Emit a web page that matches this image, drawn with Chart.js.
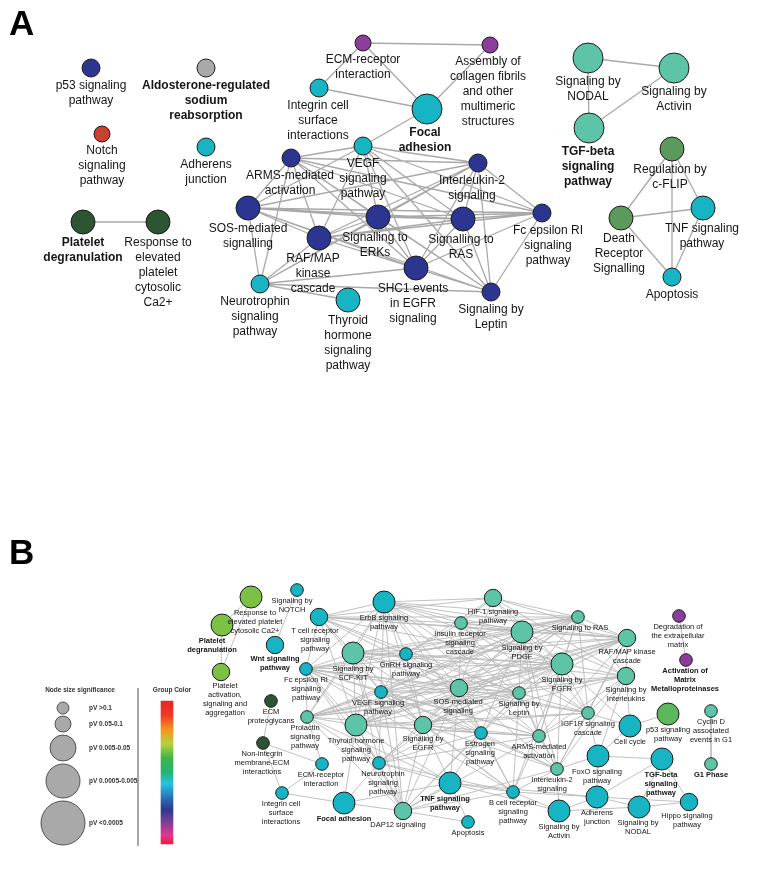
<!DOCTYPE html>
<html>
<head>
<meta charset="utf-8">
<title>Pathway networks</title>
<script src="https://cdn.jsdelivr.net/npm/chart.js@4.4.1/dist/chart.umd.min.js"></script>
<style>
  html, body { margin: 0; padding: 0; background: #fff; }
  #wrap { width: 771px; height: 888px; }
</style>
</head>
<body>
<div id="wrap"><canvas id="net" width="771" height="888"></canvas></div>
<script>
// ─── Panel A data ─────────────────────────────────────────
const aIds = ['p53','ald','notch','adh','pdeg','resp','ecm','asm','int','foc','vegf','arms','il2',
              'sos','erk','ras','fce','raf','shc','lep','neu','thy','nodal','act','tgf','flip','tnf','drs','apo'];
const aLabels = [
  'p53 signaling\npathway', 'Aldosterone-regulated\nsodium\nreabsorption', 'Notch\nsignaling\npathway',
  'Adherens\njunction', 'Platelet\ndegranulation', 'Response to\nelevated\nplatelet\ncytosolic\nCa2+',
  'ECM-receptor\ninteraction', 'Assembly of\ncollagen fibrils\nand other\nmultimeric\nstructures',
  'Integrin cell\nsurface\ninteractions', 'Focal\nadhesion', 'VEGF\nsignaling\npathway',
  'ARMS-mediated\nactivation', 'Interleukin-2\nsignaling', 'SOS-mediated\nsignalling', 'Signalling to\nERKs',
  'Signalling to\nRAS', 'Fc epsilon RI\nsignaling\npathway', 'RAF/MAP\nkinase\ncascade',
  'SHC1 events\nin EGFR\nsignaling', 'Signaling by\nLeptin', 'Neurotrophin\nsignaling\npathway',
  'Thyroid\nhormone\nsignaling\npathway', 'Signaling by\nNODAL', 'Signaling by\nActivin',
  'TGF-beta\nsignaling\npathway', 'Regulation by\nc-FLIP', 'TNF signaling\npathway',
  'Death\nReceptor\nSignalling', 'Apoptosis'
];
const aX   = [91, 206, 102, 206, 83, 158, 363, 490, 319, 427, 363, 291, 478, 248, 378, 463, 542, 319, 416, 491, 260, 348, 588, 674, 589, 672, 703, 621, 672];
const aY   = [68, 68, 134, 147, 222, 222, 43, 45, 88, 109, 146, 158, 163, 208, 217, 219, 213, 238, 268, 292, 284, 300, 58, 68, 128, 149, 208, 218, 277];
// significance class (0 = least significant)
const aSig = [1, 1, 0, 1, 2, 2, 0, 0, 1, 3, 1, 1, 1, 2, 2, 2, 1, 2, 2, 1, 1, 2, 3, 3, 3, 2, 2, 2, 1];
const aGroup = ['navy','gray','red','cyan','dkgreen','dkgreen','purple','purple','cyan','cyan','cyan','navy','navy',
                'navy','navy','navy','navy','navy','navy','navy','cyan','cyan','aqua','aqua','aqua','green','cyan','green','cyan'];
const aBold = ['ald','pdeg','foc','tgf'];
const edgesA = [
  'pdeg:resp',
  'ecm:asm int foc',
  'asm:foc',
  'int:foc',
  'foc:vegf',
  'vegf:arms sos erk ras il2 fce raf shc lep',
  'arms:sos erk ras il2 fce raf shc lep neu',
  'il2:sos erk ras fce raf shc lep neu',
  'sos:erk ras fce raf shc lep neu',
  'erk:ras fce raf shc lep neu',
  'ras:fce raf shc lep',
  'fce:raf shc lep',
  'raf:shc lep neu',
  'shc:lep neu',
  'neu:thy lep',
  'nodal:act tgf',
  'act:tgf',
  'flip:drs tnf apo',
  'drs:tnf apo',
  'tnf:apo'
];

// ─── Panel B data ─────────────────────────────────────────
const bIds = ['resp','pdeg','pact','notch','tcr','wnt','fce','scf','erbb','ecmp','hif','ins','pdgf','gnrh','fgfr',
              'sos','lep','ras','raf','il','deg','amp','p53','cyc','g1','cc','foxo','tgf','adh','nodal','hippo',
              'igf','arms','est','egfr','il2','tnf','bcr','dap','apo','act','nonint','ecmr','integ','focal',
              'prl','thy','vegf','neuro'];
const bLabels = [
  'Response to\nelevated platelet\ncytosolic Ca2+', 'Platelet\ndegranulation',
  'Platelet\nactivation,\nsignaling and\naggregation', 'Signaling by\nNOTCH',
  'T cell receptor\nsignaling\npathway', 'Wnt signaling\npathway', 'Fc epsilon RI\nsignaling\npathway',
  'Signaling by\nSCF-KIT', 'ErbB signaling\npathway', 'ECM\nproteoglycans', 'HIF-1 signaling\npathway',
  'Insulin receptor\nsignaling\ncascade', 'Signaling by\nPDGF', 'GnRH signaling\npathway',
  'Signaling by\nFGFR', 'SOS-mediated\nsignaling', 'Signaling by\nLeptin', 'Signaling to RAS',
  'RAF/MAP kinase\ncascade', 'Signaling by\nInterleukins', 'Degradation of\nthe extracellular\nmatrix',
  'Activation of\nMatrix\nMetalloproteinases', 'p53 signaling\npathway', 'Cyclin D\nassociated\nevents in G1',
  'G1 Phase', 'Cell cycle', 'FoxO signaling\npathway', 'TGF-beta\nsignaling\npathway',
  'Adherens\njunction', 'Signaling by\nNODAL', 'Hippo signaling\npathway', 'IGF1R signaling\ncascade',
  'ARMS-mediated\nactivation', 'Estrogen\nsignaling\npathway', 'Signaling by\nEGFR',
  'Interleukin-2\nsignaling', 'TNF signaling\npathway', 'B cell receptor\nsignaling\npathway',
  'DAP12 signaling', 'Apoptosis', 'Signaling by\nActivin', 'Non-integrin\nmembrane-ECM\ninteractions',
  'ECM-receptor\ninteraction', 'Integrin cell\nsurface\ninteractions', 'Focal adhesion',
  'Prolactin\nsignaling\npathway', 'Thyroid hormone\nsignaling\npathway', 'VEGF signaling\npathway',
  'Neurotrophin\nsignaling\npathway'
];
const bX   = [251, 222, 221, 297, 319, 275, 306, 353, 384, 271, 493, 461, 522, 406, 562, 459, 519, 578, 627, 626,
              679, 686, 668, 711, 711, 630, 598, 662, 597, 639, 689, 588, 539, 481, 423, 557, 450, 513, 403, 468,
              559, 263, 322, 282, 344, 307, 356, 381, 379];
const bY   = [597, 625, 672, 590, 617, 645, 669, 653, 602, 701, 598, 623, 632, 654, 664, 688, 693, 617, 638, 676,
              616, 660, 714, 711, 764, 726, 756, 759, 797, 807, 802, 713, 736, 733, 725, 769, 783, 792, 811, 822,
              811, 743, 764, 793, 803, 717, 725, 692, 763];
const bSig = [2, 2, 1, 0, 1, 1, 0, 2, 2, 0, 1, 0, 2, 0, 2, 1, 0, 0, 1, 1,
              0, 0, 2, 0, 0, 2, 2, 2, 2, 2, 1, 0, 0, 0, 1, 0, 2, 0, 1, 0,
              2, 0, 0, 0, 2, 0, 2, 0, 0];
const bGroup = ['lime','lime','lime','cyan','cyan','cyan','cyan','aqua','cyan','dkgreen','aqua','aqua','aqua','cyan','aqua',
                'aqua','aqua','aqua','aqua','aqua','purple','purple','leaf','aqua','aqua','cyan','cyan','cyan','cyan','cyan','cyan',
                'aqua','aqua','cyan','aqua','aqua','cyan','cyan','aqua','cyan','cyan','dkgreen','cyan','cyan','cyan',
                'aqua','aqua','cyan','cyan'];
const bBold = ['pdeg','wnt','amp','g1','tgf','tnf','focal'];
const edgesB = [
  'resp:pdeg pact',
  'pdeg:pact',
  'notch:wnt',
  'ecmp:nonint',
  'nonint:ecmr integ',
  'ecmr:integ prl',
  'integ:focal',
  'focal:thy neuro dap tnf',
  'tcr:erbb scf fce gnrh vegf sos ras fgfr pdgf ins hif lep egfr thy raf',
  'fce:scf erbb vegf prl thy egfr sos lep ras raf fgfr igf arms gnrh dap neuro bcr',
  'scf:erbb gnrh vegf prl thy egfr sos ras pdgf fgfr raf il dap neuro est lep',
  'erbb:gnrh vegf ins hif pdgf fgfr sos lep ras raf egfr thy prl igf est arms dap',
  'prl:vegf thy egfr neuro dap sos raf ras il fgfr pdgf lep tnf',
  'thy:vegf egfr neuro dap sos lep est arms igf fgfr pdgf ras raf tnf',
  'vegf:gnrh egfr sos pdgf fgfr ras raf lep arms est dap neuro il2 bcr',
  'egfr:sos est arms lep fgfr pdgf ras raf igf il dap tnf bcr neuro il2',
  'neuro:dap sos arms tnf est bcr lep ras',
  'dap:tnf est arms bcr il2 sos lep apo',
  'gnrh:sos ins hif ras fgfr pdgf est egfr lep',
  'ins:hif pdgf sos fgfr ras raf lep igf',
  'hif:pdgf ras raf fgfr il sos',
  'pdgf:fgfr ras raf il sos lep igf arms est il2',
  'fgfr:ras raf il sos lep igf arms est il2 bcr cc',
  'sos:lep ras raf il igf arms est il2 bcr tnf',
  'lep:ras raf il igf arms est il2 bcr',
  'ras:raf il igf arms',
  'raf:il igf arms il2',
  'il:igf arms il2 cc foxo',
  'igf:arms il2 cc foxo',
  'arms:est il2 bcr',
  'est:bcr tnf il2',
  'il2:bcr foxo act',
  'bcr:tnf act adh',
  'tnf:apo act adh',
  'p53:cc',
  'cc:foxo',
  'foxo:adh tgf',
  'adh:tgf nodal hippo act',
  'nodal:hippo tgf act',
  'tgf:hippo',
  'cyc:g1',
  'deg:amp'
];

// ─── Legend data ──────────────────────────────────────────
const sizeLegendLabels = ['pV >0.1', 'pV 0.05-0.1', 'pV 0.005-0.05', 'pV 0.0005-0.005', 'pV <0.0005'];

// ─── Styles / layout ──────────────────────────────────────
const GROUP_COLORS = {
  navy: '#2c3590', gray: '#a9a9a9', red: '#c9412f', cyan: '#17b5c3', dkgreen: '#2e5531',
  purple: '#8c3c9b', aqua: '#5ec4a8', green: '#5b995c', lime: '#7bc143', leaf: '#5db85c'
};
const SIZE_A = [8, 9, 12, 15];
const SIZE_B = [6.3, 8.7, 11];
const FONT = '"Liberation Sans", Arial, Helvetica, sans-serif';
const TEXT_A = { size: 12, line: 15, gap: 9 };
const TEXT_B = { size: 7.5, line: 9, gap: 5 };
const LABEL_DX_A = { neu: -5, raf: -6, shc: -3, il2: -6, fce: 6, foc: -2, erk: -3, ras: -2, drs: -2,
                     asm: -2, arms: -1, int: -1, tgf: -1, flip: -2, tnf: -1 };
const LABEL_DX_B = { resp: 4, pdeg: -10, pact: 4, notch: -5, tcr: -4, ras: 2, neuro: 4, il2: -5, tnf: -5,
                     dap: -5, vegf: -3, ins: -1, est: -1, sos: -1, foxo: -1, tgf: -1, nodal: -1, hippo: -2,
                     prl: -2, ecmr: -1, integ: -1, nonint: -1, amp: -1, deg: -1 };
const LEGEND = {
  circleX: 63, circleY: [708, 724, 748, 781, 823], circleR: [6, 8, 13, 17, 22], textX: 89,
  sepX: 138, sepY: [688, 846], barX: 167, barY: [701, 844], titleY: 690
};
const SPECTRUM = [
  [0, '#e8262b'], [0.1, '#ee3a26'], [0.2, '#f7941d'], [0.3, '#b5d33a'], [0.4, '#3db54a'],
  [0.5, '#22b573'], [0.58, '#27c2e3'], [0.68, '#2a6db5'], [0.76, '#2e3a8f'], [0.85, '#7f3f98'],
  [0.94, '#e7348f'], [1, '#ec1c3a']
];

// ─── Helpers ──────────────────────────────────────────────
function edgePoints(list, ids, xs, ys) {
  const pts = [];
  list.forEach(row => {
    const [src, rest] = row.split(':');
    const i = ids.indexOf(src);
    rest.trim().split(/\s+/).forEach(dst => {
      const j = ids.indexOf(dst);
      if (i < 0 || j < 0) { console.warn('bad edge', src, dst); return; }
      pts.push({ x: xs[i], y: ys[i] }, { x: xs[j], y: ys[j] }, { x: null, y: null });
    });
  });
  return pts;
}

function nodePoints(xs, ys, sig, sizes) {
  return xs.map((x, i) => ({ x, y: ys[i], r: sizes[sig[i]] }));
}

function drawLabels(ctx, sx, sy, ids, labels, xs, ys, sig, sizes, bold, dxMap, t) {
  ctx.textAlign = 'center';
  ctx.textBaseline = 'middle';
  ctx.fillStyle = '#141414';
  ids.forEach((id, i) => {
    const weight = bold.includes(id) ? '700 ' : '400 ';
    ctx.font = `${weight}${t.size}px ${FONT}`;
    const cx = sx.getPixelForValue(xs[i] + (dxMap[id] || 0));
    const top = sy.getPixelForValue(ys[i]) + sizes[sig[i]] + t.gap;
    labels[i].split('\n').forEach((line, k) => ctx.fillText(line, cx, top + k * t.line));
  });
}

// ─── Text plugin ──────────────────────────────────────────
const textPlugin = {
  id: 'netText',
  afterDatasetsDraw(chart) {
    const { ctx, scales: { x, y } } = chart;
    ctx.save();
    drawLabels(ctx, x, y, aIds, aLabels, aX, aY, aSig, SIZE_A, aBold, LABEL_DX_A, TEXT_A);
    drawLabels(ctx, x, y, bIds, bLabels, bX, bY, bSig, SIZE_B, bBold, LABEL_DX_B, TEXT_B);

    // panel letters
    ctx.textAlign = 'left';
    ctx.textBaseline = 'alphabetic';
    ctx.fillStyle = '#000';
    ctx.font = `700 35px ${FONT}`;
    ctx.fillText('A', x.getPixelForValue(9), y.getPixelForValue(35));
    ctx.fillText('B', x.getPixelForValue(9), y.getPixelForValue(564));

    // legend text
    ctx.fillStyle = '#333';
    ctx.font = `700 6.5px ${FONT}`;
    ctx.textAlign = 'center';
    ctx.textBaseline = 'middle';
    ctx.fillText('Node size significance', x.getPixelForValue(80), y.getPixelForValue(LEGEND.titleY));
    ctx.fillText('Group Color', x.getPixelForValue(172), y.getPixelForValue(LEGEND.titleY));
    ctx.textAlign = 'left';
    sizeLegendLabels.forEach((lbl, i) => {
      ctx.fillText(lbl, x.getPixelForValue(LEGEND.textX), y.getPixelForValue(LEGEND.circleY[i]));
    });
    ctx.restore();
  }
};

// ─── Chart ────────────────────────────────────────────────
function spectrumFill(context) {
  const chart = context.chart;
  const y = chart.scales && chart.scales.y;
  if (!chart.chartArea || !y) return '#888';
  const y0 = y.getPixelForValue(LEGEND.barY[0]);
  const y1 = y.getPixelForValue(LEGEND.barY[1]);
  if (!isFinite(y0) || !isFinite(y1)) return '#888';
  const g = chart.ctx.createLinearGradient(0, y0, 0, y1);
  SPECTRUM.forEach(([p, c]) => g.addColorStop(p, c));
  return g;
}

new Chart(document.getElementById('net'), {
  type: 'scatter',
  data: {
    datasets: [
      {
        type: 'line', label: 'edges A', order: 5,
        data: edgePoints(edgesA, aIds, aX, aY),
        borderColor: '#a9a9a9', borderWidth: 1.3, pointRadius: 0, spanGaps: false, fill: false, tension: 0
      },
      {
        type: 'line', label: 'edges B', order: 5,
        data: edgePoints(edgesB, bIds, bX, bY),
        borderColor: '#bababa', borderWidth: 0.9, pointRadius: 0, spanGaps: false, fill: false, tension: 0
      },
      {
        type: 'line', label: 'legend separator', order: 5,
        data: [{ x: LEGEND.sepX, y: LEGEND.sepY[0] }, { x: LEGEND.sepX, y: LEGEND.sepY[1] }],
        borderColor: '#9a9a9a', borderWidth: 1, pointRadius: 0
      },
      {
        type: 'bubble', label: 'nodes A', order: 1,
        data: nodePoints(aX, aY, aSig, SIZE_A),
        backgroundColor: aGroup.map(g => GROUP_COLORS[g]),
        borderColor: '#1c1c1c', borderWidth: 1
      },
      {
        type: 'bubble', label: 'nodes B', order: 1,
        data: nodePoints(bX, bY, bSig, SIZE_B),
        backgroundColor: bGroup.map(g => GROUP_COLORS[g]),
        borderColor: '#1c1c1c', borderWidth: 1
      },
      {
        type: 'bubble', label: 'size legend', order: 1,
        data: LEGEND.circleY.map((cy, i) => ({ x: LEGEND.circleX, y: cy, r: LEGEND.circleR[i] })),
        backgroundColor: '#a9a9a9', borderColor: '#333', borderWidth: 0.8
      },
      {
        type: 'bar', label: 'group colour', order: 1,
        data: [{ x: LEGEND.barX, y: LEGEND.barY }],
        backgroundColor: spectrumFill, borderWidth: 0, barThickness: 12
      }
    ]
  },
  options: {
    responsive: false,
    devicePixelRatio: 1,
    animation: false,
    events: [],
    layout: { padding: 0, autoPadding: false },
    scales: {
      x: { type: 'linear', min: 0, max: 771, offset: false, grid: { offset: false }, display: false },
      y: { type: 'linear', min: 0, max: 888, reverse: true, display: false }
    },
    plugins: { legend: { display: false }, tooltip: { enabled: false } }
  },
  plugins: [textPlugin]
});
</script>
</body>
</html>
